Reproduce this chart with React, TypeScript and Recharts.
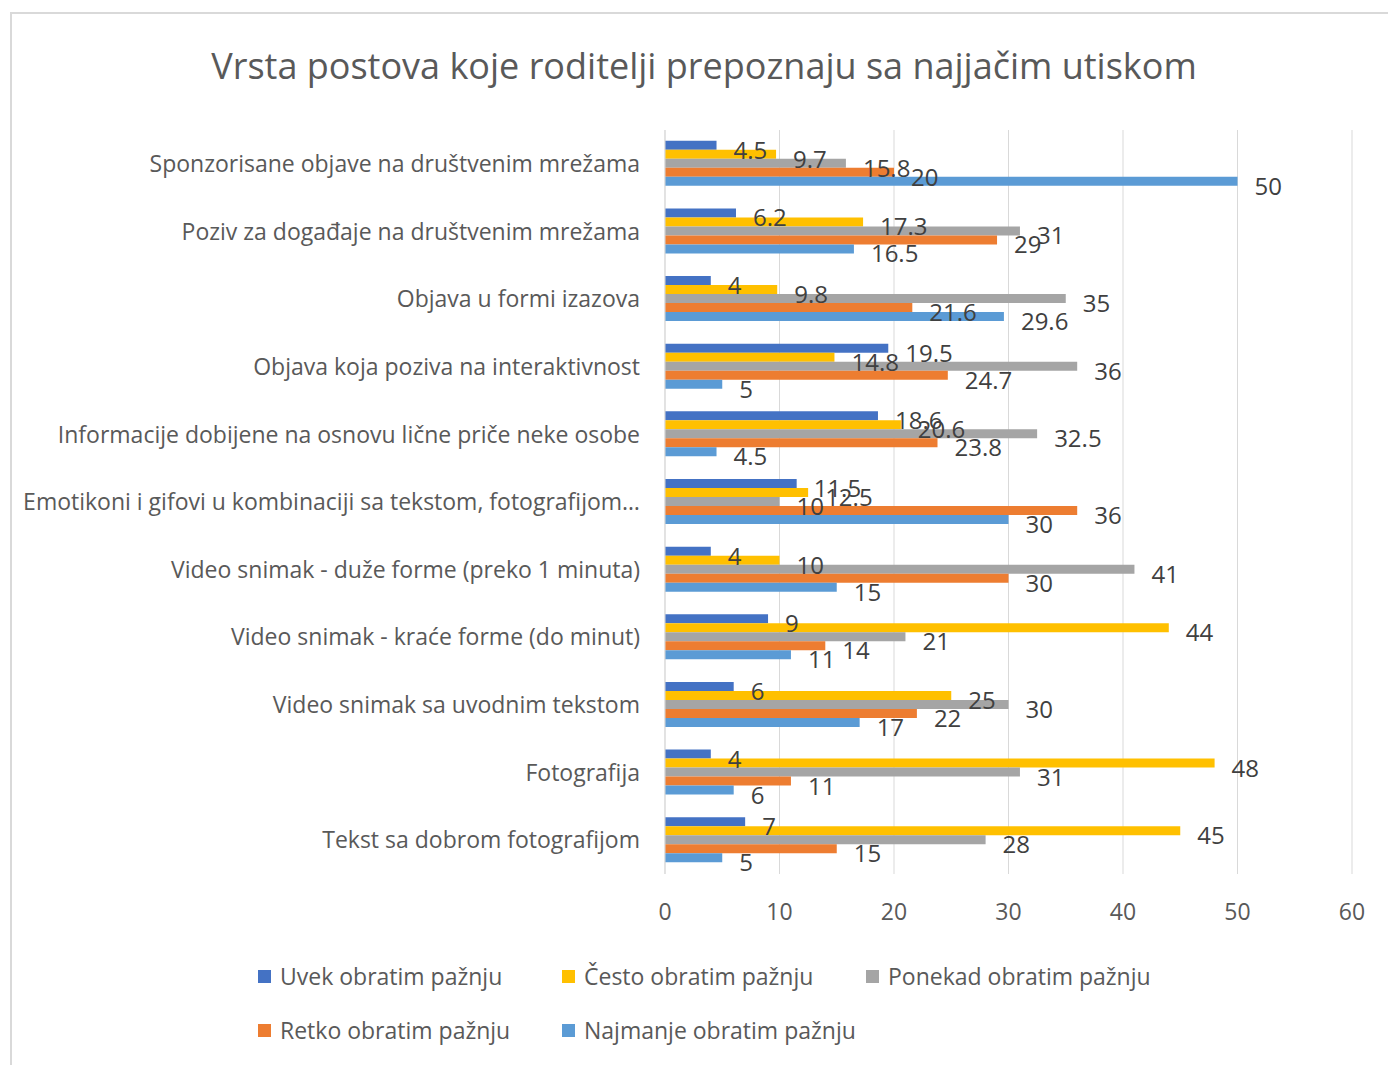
import React from 'react';
import { BarChart, Bar, XAxis, YAxis, CartesianGrid, LabelList } from 'recharts';

const categories = [
  'Sponzorisane objave na društvenim mrežama',
  'Poziv za događaje na društvenim mrežama',
  'Objava u formi izazova',
  'Objava koja poziva na interaktivnost',
  'Informacije dobijene na osnovu lične priče neke osobe',
  'Emotikoni i gifovi u kombinaciji sa tekstom, fotografijom…',
  'Video snimak - duže forme (preko 1 minuta)',
  'Video snimak - kraće forme (do minut)',
  'Video snimak sa uvodnim tekstom',
  'Fotografija',
  'Tekst sa dobrom fotografijom',
];

const uvek = [4.5, 6.2, 4, 19.5, 18.6, 11.5, 4, 9, 6, 4, 7];
const cesto = [9.7, 17.3, 9.8, 14.8, 20.6, 12.5, 10, 44, 25, 48, 45];
const ponekad = [15.8, 31, 35, 36, 32.5, 10, 41, 21, 30, 31, 28];
const retko = [20, 29, 21.6, 24.7, 23.8, 36, 30, 14, 22, 11, 15];
const najmanje = [50, 16.5, 29.6, 5, 4.5, 30, 15, 11, 17, 6, 5];

const xTicks = [0, 10, 20, 30, 40, 50, 60];

const series = [
  { key: 'uvek', name: 'Uvek obratim pažnju', color: '#4472C4' },
  { key: 'cesto', name: 'Često obratim pažnju', color: '#FFC000' },
  { key: 'ponekad', name: 'Ponekad obratim pažnju', color: '#A5A5A5' },
  { key: 'retko', name: 'Retko obratim pažnju', color: '#ED7D31' },
  { key: 'najmanje', name: 'Najmanje obratim pažnju', color: '#5B9BD5' },
];

const data = categories.map((name, i) => ({
  name,
  uvek: uvek[i],
  cesto: cesto[i],
  ponekad: ponekad[i],
  retko: retko[i],
  najmanje: najmanje[i],
}));

const FONT = "'Open Sans', sans-serif";

const ValueLabel = (props: any) => {
  const { x, y, width, height, value } = props;
  return (
    <text
      x={Number(x) + Number(width) + 17}
      y={Number(y) + Number(height) / 2 + 4}
      dominantBaseline="central"
      textAnchor="start"
      fill="#404040"
      fontSize={24}
      fontFamily={FONT}
    >
      {value}
    </text>
  );
};

export default function App() {
  return (
    <div style={{ position: 'absolute', left: 0, top: 0, width: 1388, height: 1065, overflow: 'hidden', background: '#fff' }}>
      <div style={{ position: 'absolute', left: 10, top: 12, width: 1400, height: 1070, border: '2px solid #d9d9d9', boxSizing: 'border-box' }} />
      <div
        style={{
          position: 'absolute',
          left: 0,
          top: 44,
          width: 1408,
          textAlign: 'center',
          fontFamily: FONT,
          fontSize: 36,
          color: '#595959',
          lineHeight: '44px',
          whiteSpace: 'nowrap',
        }}
      >
        Vrsta postova koje roditelji prepoznaju sa najjačim utiskom
      </div>
      <div style={{ position: 'absolute', left: 0, top: 0 }}>
        <BarChart
          width={1388}
          height={940}
          data={data}
          layout="vertical"
          margin={{ top: 130, right: 36, left: 0, bottom: 0 }}
          barCategoryGap="16%"
          barGap={0}
        >
          <CartesianGrid horizontal={false} stroke="#d9d9d9" />
          <XAxis
            type="number"
            domain={[0, 60]}
            ticks={xTicks}
            axisLine={false}
            tickLine={false}
            tickSize={0}
            tickMargin={30}
            height={66}
            tick={{ fill: '#595959', fontSize: 23, fontFamily: FONT }}
          />
          <YAxis
            type="category"
            dataKey="name"
            width={665}
            tickSize={0}
            tickMargin={25}
            axisLine={{ stroke: '#d9d9d9' }}
            tickLine={false}
            interval={0}
            tick={{ fill: '#595959', fontSize: 23, fontFamily: FONT }}
          />
          {series.map((s) => (
            <Bar key={s.key} dataKey={s.key} name={s.name} fill={s.color} isAnimationActive={false}>
              <LabelList dataKey={s.key} content={ValueLabel} />
            </Bar>
          ))}
        </BarChart>
      </div>
      <div
        style={{
          position: 'absolute',
          left: 258,
          top: 958,
          width: 940,
          display: 'flex',
          flexWrap: 'wrap',
          rowGap: 18,
          fontFamily: FONT,
          fontSize: 23,
          color: '#595959',
        }}
      >
        {series.map((s) => (
          <div key={s.key} style={{ width: 304, height: 36, display: 'flex', alignItems: 'center', whiteSpace: 'nowrap' }}>
            <span style={{ display: 'inline-block', width: 13, height: 13, background: s.color, marginRight: 9, flex: 'none' }} />
            <span>{s.name}</span>
          </div>
        ))}
      </div>
    </div>
  );
}
